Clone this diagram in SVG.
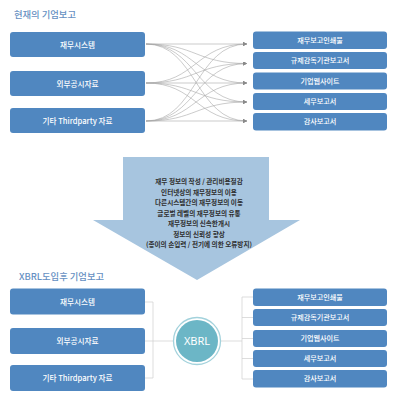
<svg xmlns="http://www.w3.org/2000/svg" width="400" height="407" viewBox="0 0 400 407">
<defs>
<style>
.box{fill:#5087c0;}
.lt{font-family:"Noto Sans CJK KR","Noto Sans",sans-serif;font-size:7.6px;font-weight:500;fill:#ffffff;text-anchor:middle;}
.rt{font-family:"Noto Sans CJK KR","Noto Sans",sans-serif;font-size:7.1px;font-weight:500;fill:#ffffff;text-anchor:middle;}
.title{font-family:"Noto Sans CJK KR","Noto Sans",sans-serif;font-size:9.3px;font-weight:500;fill:#6690c2;}
.mid{font-family:"Noto Sans CJK KR","Noto Sans",sans-serif;font-size:6.6px;font-weight:bold;fill:#2f2f2f;text-anchor:middle;}
.cv{fill:none;stroke:#a8a8a8;stroke-width:0.6;marker-end:url(#ah);}
.ln{fill:none;stroke:#cfcfcf;stroke-width:0.7;}
</style>
<marker id="ah" viewBox="0 0 6 6" refX="6" refY="3" markerWidth="4" markerHeight="4" orient="auto" markerUnits="userSpaceOnUse">
<path d="M0,0 L6,3 L0,6 z" fill="#8a8a8a"/>
</marker>
</defs>
<rect width="400" height="407" fill="#ffffff"/>

<text class="title" x="14" y="18">현재의 기업보고</text>

<g id="top-left-1"><rect class="box" x="10" y="32" width="135" height="25" rx="3"/><text class="lt" x="77.5" y="47.5">재무시스템</text></g>
<g id="top-left-2"><rect class="box" x="10" y="71" width="135" height="25" rx="3"/><text class="lt" x="77.5" y="86.5">외부공시자료</text></g>
<g id="top-left-3"><rect class="box" x="10" y="108" width="135" height="25" rx="3"/><text class="lt" x="77.5" y="123.5">기타 Thirdparty 자료</text></g>

<g id="top-right-1"><rect class="box" x="253" y="31.5" width="134" height="17.5" rx="3"/><text class="rt" x="320" y="42.8">재무보고인쇄물</text></g>
<g id="top-right-2"><rect class="box" x="253" y="52" width="134" height="17" rx="3"/><text class="rt" x="320" y="63">규제감독기관보고서</text></g>
<g id="top-right-3"><rect class="box" x="253" y="72.5" width="134" height="17" rx="3"/><text class="rt" x="320" y="83.5">기업웹사이트</text></g>
<g id="top-right-4"><rect class="box" x="253" y="93" width="134" height="17" rx="3"/><text class="rt" x="320" y="104">세무보고서</text></g>
<g id="top-right-5"><rect class="box" x="253" y="113" width="134" height="17.5" rx="3"/><text class="rt" x="320" y="124.3">감사보고서</text></g>

<g id="top-connectors">
<path class="cv" d="M146 44 L247 44"/>
<path class="cv" d="M146 44 C196 44 196 63.5 247 63.5"/>
<path class="cv" d="M146 44 C196 44 196 83 247 83"/>
<path class="cv" d="M146 44 C196 44 196 102 247 102"/>
<path class="cv" d="M146 44 C196 44 196 121 247 121"/>
<path class="cv" d="M146 83 C196 83 196 44 247 44"/>
<path class="cv" d="M146 83 C196 83 196 63.5 247 63.5"/>
<path class="cv" d="M146 83 L247 83"/>
<path class="cv" d="M146 83 C196 83 196 102 247 102"/>
<path class="cv" d="M146 83 C196 83 196 121 247 121"/>
<path class="cv" d="M146 121 C196 121 196 44 247 44"/>
<path class="cv" d="M146 121 C196 121 196 63.5 247 63.5"/>
<path class="cv" d="M146 121 C196 121 196 83 247 83"/>
<path class="cv" d="M146 121 C196 121 196 102 247 102"/>
<path class="cv" d="M146 121 L247 121"/>
</g>

<g id="big-arrow">
<polygon points="123,157 269,157 269,220 300,220 197,280 93,220 123,220" fill="#a7c5df"/>
<text class="mid" x="199" y="184">재무 정보의 작성 / 관리비용절감</text>
<text class="mid" x="199" y="194.5">인터넷상의 재무정보의 이용</text>
<text class="mid" x="199" y="205">다른시스템간의 재무정보의 이동</text>
<text class="mid" x="199" y="215.5">글로벌 레벨의 재무정보의 유통</text>
<text class="mid" x="199" y="226">재무정보의 신속한개시</text>
<text class="mid" x="199" y="236.5">정보의 신뢰성 향상</text>
<text class="mid" x="199" y="247">(종이의 손입력 / 전기에 의한 오류방지)</text>
</g>

<text class="title" x="19" y="280">XBRL도입후 기업보고</text>

<g id="bottom-connectors">
<path class="ln" d="M145 302 H153 M145 341 H153 M145 378 H153 M153 302 V378 M153 341 H173"/>
<path class="ln" d="M221 341 H242 M242 297 V379 M242 297 H253 M242 317.5 H253 M242 338.5 H253 M242 358.5 H253 M242 379 H253"/>
</g>

<g id="bottom-left-1"><rect class="box" x="10" y="288.5" width="135" height="26" rx="3"/><text class="lt" x="77.5" y="304.5">재무시스템</text></g>
<g id="bottom-left-2"><rect class="box" x="10" y="328" width="135" height="26" rx="3"/><text class="lt" x="77.5" y="344">외부공시자료</text></g>
<g id="bottom-left-3"><rect class="box" x="10" y="365" width="135" height="26" rx="3"/><text class="lt" x="77.5" y="381">기타 Thirdparty 자료</text></g>

<g id="xbrl">
<circle cx="197" cy="341" r="23.5" fill="#ffffff" stroke="#a3d2dc" stroke-width="1.3"/>
<circle cx="197" cy="341" r="21" fill="#6cb6c6"/>
<text x="197" y="345" font-family="'Noto Sans',sans-serif" font-size="11" fill="#ffffff" text-anchor="middle">XBRL</text>
</g>

<g id="bottom-right-1"><rect class="box" x="253" y="288.5" width="134" height="17.5" rx="3"/><text class="rt" x="320" y="299.8">재무보고인쇄물</text></g>
<g id="bottom-right-2"><rect class="box" x="253" y="309" width="134" height="17" rx="3"/><text class="rt" x="320" y="320">규제감독기관보고서</text></g>
<g id="bottom-right-3"><rect class="box" x="253" y="330" width="134" height="17" rx="3"/><text class="rt" x="320" y="341">기업웹사이트</text></g>
<g id="bottom-right-4"><rect class="box" x="253" y="350" width="134" height="17" rx="3"/><text class="rt" x="320" y="361">세무보고서</text></g>
<g id="bottom-right-5"><rect class="box" x="253" y="370" width="134" height="17.5" rx="3"/><text class="rt" x="320" y="381.3">감사보고서</text></g>
</svg>
